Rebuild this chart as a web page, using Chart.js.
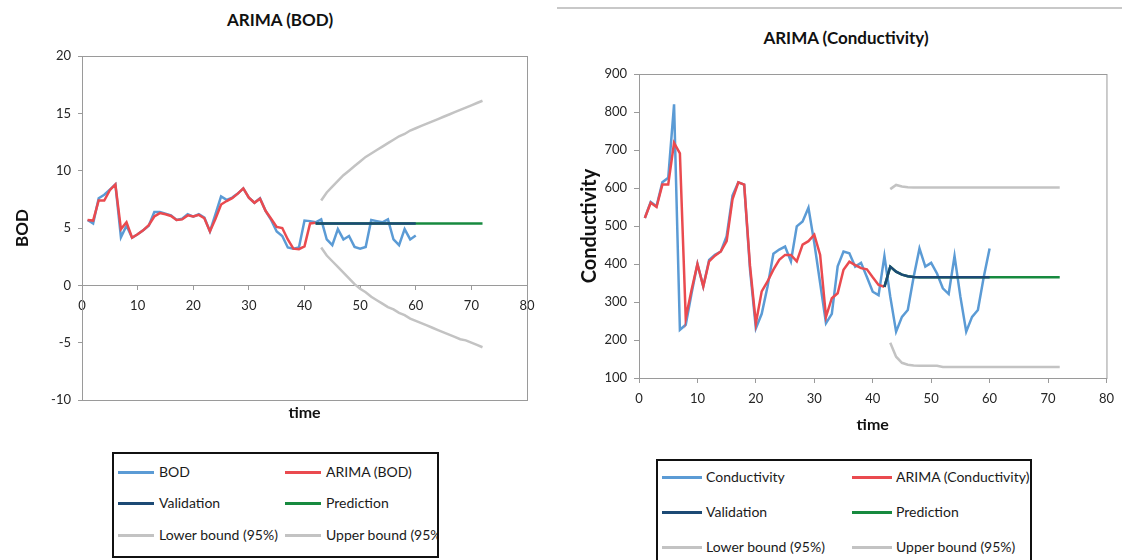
<!DOCTYPE html>
<html lang="en">
<head>
<meta charset="UTF-8">
<title>ARIMA (BOD) / ARIMA (Conductivity)</title>
<script src="https://cdn.jsdelivr.net/npm/chart.js@4.4.0/dist/chart.umd.min.js"></script>
<style>
    body { margin: 0; width: 1122px; height: 560px; background: #fff; overflow: hidden; position: relative; font-family: Lato, "Open Sans", sans-serif; }
    canvas { position: absolute; }
    .title { position: absolute; transform: translate(-50%, -50%); font-weight: bold; font-size: 17px; color: #111; white-space: nowrap; }
    .rule { position: absolute; left: 557px; top: 7px; width: 565px; border-top: 2px solid #c8c8c8; }
    .legend { position: absolute; border: 2px solid #111; overflow: hidden; box-sizing: border-box; }
    .item { position: absolute; height: 18px; line-height: 18px; font-size: 14px; color: #1a1a1a; white-space: nowrap; display: flex; align-items: center; }
    .sw { display: inline-block; height: 3px; }
</style>
</head>
<body>

<div class="rule"></div>
<div class="title" style="left:280px;top:19px">ARIMA (BOD)</div>
<div class="title" style="left:846px;top:37px">ARIMA (Conductivity)</div>

<canvas id="bodChart" width="545" height="445" style="left:0;top:0"></canvas>
<canvas id="condChart" width="562" height="445" style="left:560px;top:0"></canvas>

<div class="legend" id="bodLegend" style="left:112px;top:452px;width:327px;height:106px"></div>
<div class="legend" id="condLegend" style="left:656px;top:459px;width:376px;height:112px"></div>

<script>
    // ---- BOD (time starts at 1) ----
    var bodObserved = [5.7, 5.4, 7.6, 7.9, 8.35, 8.8, 4.2, 5.2, 4.15, 4.45,
        4.8, 5.2, 6.4, 6.4, 6.25, 6.1, 5.7, 5.8, 6.2, 6.0,
        6.2, 5.9, 4.7, 6.2, 7.75, 7.45, 7.65, 8.0, 8.45, 7.65,
        7.2, 7.6, 6.5, 5.7, 4.7, 4.3, 3.3, 3.2, 3.3, 5.65,
        5.6, 5.5, 5.75, 4.0, 3.5, 4.9, 4.0, 4.3, 3.35, 3.2,
        3.35, 5.7, 5.6, 5.5, 5.75, 4.0, 3.5, 4.9, 4.0, 4.35];
    var bodArima = [5.7, 5.65, 7.4, 7.4, 8.3, 8.8, 4.9, 5.5, 4.15, 4.45,
        4.8, 5.25, 6.0, 6.3, 6.2, 6.05, 5.7, 5.75, 6.1, 6.0,
        6.15, 5.85, 4.7, 5.8, 7.05, 7.35, 7.6, 8.0, 8.45, 7.65,
        7.2, 7.55, 6.5, 5.8, 5.1, 5.0, 4.0, 3.2, 3.15, 3.4,
        5.4, 5.45];
    // validation from t=42 to 60, prediction from t=42 to 72
    var bodValidation = [5.4, 5.4, 5.4, 5.4, 5.4, 5.4, 5.4, 5.4, 5.4, 5.4,
        5.4, 5.4, 5.4, 5.4, 5.4, 5.4, 5.4, 5.4, 5.4];
    var bodPrediction = [5.4, 5.4, 5.4, 5.4, 5.4, 5.4, 5.4, 5.4, 5.4, 5.4,
        5.4, 5.4, 5.4, 5.4, 5.4, 5.4, 5.4, 5.4, 5.4, 5.4,
        5.4, 5.4, 5.4, 5.4, 5.4, 5.4, 5.4, 5.4, 5.4, 5.4, 5.4];
    // bounds from t=43 to 72
    var bodLower = [3.3, 2.6, 2.1, 1.6, 1.1, 0.6, 0.1, -0.3, -0.6, -1.0,
        -1.3, -1.6, -1.9, -2.1, -2.4, -2.6, -2.9, -3.1, -3.3, -3.5,
        -3.7, -3.9, -4.1, -4.3, -4.5, -4.7, -4.8, -5.0, -5.2, -5.4];
    var bodUpper = [7.4, 8.1, 8.6, 9.1, 9.6, 10.0, 10.4, 10.8, 11.2, 11.5,
        11.8, 12.1, 12.4, 12.7, 13.0, 13.2, 13.5, 13.7, 13.9, 14.1,
        14.3, 14.5, 14.7, 14.9, 15.1, 15.3, 15.5, 15.7, 15.9, 16.1];

    // ---- Conductivity ----
    var condObserved = [521, 563, 552, 615, 627, 820, 227, 240, 323, 400,
        341, 411, 424, 433, 473, 580, 615, 609, 385, 231,
        269, 341, 427, 438, 446, 407, 499, 512, 548, 455,
        350, 244, 269, 394, 433, 428, 393, 403, 366, 327,
        318, 421, 314, 222, 261, 279, 366, 441, 393, 403,
        375, 336, 321, 421, 314, 222, 261, 279, 366, 441];
    var condArima = [521, 561, 550, 609, 609, 719, 691, 257, 332, 400,
        341, 407, 422, 433, 460, 570, 615, 609, 395, 244,
        328, 354, 385, 411, 424, 424, 407, 451, 460, 477,
        424, 261, 310, 323, 385, 406, 397, 389, 386, 365,
        345, 340];
    var condValidation = [340, 393, 380, 372, 368, 366, 365, 365, 365, 365,
        365, 365, 365, 365, 365, 365, 365, 365, 365];
    var condPrediction = [340, 393, 380, 372, 368, 366, 365, 365, 365, 365,
        365, 365, 365, 365, 365, 365, 365, 365, 365, 365,
        365, 365, 365, 365, 365, 365, 365, 365, 365, 365, 365];
    var condLower = [193, 156, 140, 135, 133, 132, 132, 132, 132, 129,
        129, 129, 129, 129, 129, 129, 129, 129, 129, 129,
        129, 129, 129, 129, 129, 129, 129, 129, 129, 129];
    var condUpper = [597, 608, 604, 602, 601, 601, 601, 601, 601, 601,
        601, 601, 601, 601, 601, 601, 601, 601, 601, 601,
        601, 601, 601, 601, 601, 601, 601, 601, 601, 601];

    var xTicks = {min: 0, max: 80, step: 10};

    var BLUE = '#5b9bd5', RED = '#ea4a4f', NAVY = '#1c4a75', GREEN = '#178a3f', GRAY = '#c3c3c3';
    var AXIS = '#9a9a9a', TEXT = '#262626';

    function pts(start, values) {
        return values.map(function (v, i) { return {x: start + i, y: v}; });
    }

    function line(label, data, color, order) {
        return {label: label, data: data, borderColor: color, backgroundColor: color,
            borderWidth: 2.5, pointRadius: 0, tension: 0, fill: false, order: order};
    }

    // gray frame round the plot area, like the Excel plot border
    var plotBorder = {
        id: 'plotBorder',
        beforeDatasetsDraw: function (chart) {
            var a = chart.chartArea, ctx = chart.ctx;
            ctx.save();
            ctx.strokeStyle = AXIS;
            ctx.lineWidth = 1;
            ctx.strokeRect(a.left + 0.5, a.top + 0.5, a.right - a.left, a.bottom - a.top);
            ctx.restore();
        }
    };

    var tickFont = {family: 'Lato', size: 13};

    Chart.defaults.font.family = 'Lato';
    Chart.defaults.animation = false;

    var bodChart = new Chart(document.getElementById('bodChart'), {
        type: 'line',
        data: {
            datasets: [
                line('BOD', pts(1, bodObserved), BLUE, 4),
                line('ARIMA (BOD)', pts(1, bodArima), RED, 3),
                line('Validation', pts(42, bodValidation), NAVY, 1),
                line('Prediction', pts(42, bodPrediction), GREEN, 2),
                line('Lower bound (95%)', pts(43, bodLower), GRAY, 5),
                line('Upper bound (95%)', pts(43, bodUpper), GRAY, 5)
            ]
        },
        options: {
            responsive: false,
            devicePixelRatio: 1,
            layout: {padding: {top: 56, right: 18, bottom: 45, left: 0}},
            plugins: {legend: {display: false}, tooltip: {enabled: false}},
            scales: {
                x: {
                    type: 'linear', min: xTicks.min, max: xTicks.max,
                    position: {y: 0},
                    ticks: {stepSize: xTicks.step, padding: 9, color: TEXT, font: tickFont},
                    grid: {drawOnChartArea: false, drawTicks: true, tickLength: 4, color: AXIS},
                    border: {color: AXIS},
                    title: {display: true, text: 'time', color: '#111', font: {size: 16, weight: 'bold'}, padding: {top: 0, bottom: 3}},
                    afterFit: function (s) { s.height = 140; }
                },
                y: {
                    min: -10, max: 20,
                    ticks: {stepSize: 5, padding: 7, color: TEXT, font: tickFont},
                    grid: {drawOnChartArea: false, drawTicks: true, tickLength: 4, color: AXIS},
                    border: {color: AXIS},
                    title: {display: true, text: 'BOD', color: '#111', font: {size: 17, weight: 'bold'}, padding: {top: 12, bottom: 0}},
                    afterFit: function (s) { s.width = 82; }
                }
            }
        },
        plugins: [plotBorder]
    });

    var condChart = new Chart(document.getElementById('condChart'), {
        type: 'line',
        data: {
            datasets: [
                line('Conductivity', pts(1, condObserved), BLUE, 4),
                line('ARIMA (Conductivity)', pts(1, condArima), RED, 3),
                line('Validation', pts(42, condValidation), NAVY, 1),
                line('Prediction', pts(42, condPrediction), GREEN, 2),
                line('Lower bound (95%)', pts(43, condLower), GRAY, 5),
                line('Upper bound (95%)', pts(43, condUpper), GRAY, 5)
            ]
        },
        options: {
            responsive: false,
            devicePixelRatio: 1,
            layout: {padding: {top: 74, right: 13, bottom: 0, left: 0}},
            plugins: {legend: {display: false}, tooltip: {enabled: false}},
            scales: {
                x: {
                    type: 'linear', min: xTicks.min, max: xTicks.max,
                    ticks: {stepSize: xTicks.step, padding: 8, color: TEXT, font: tickFont},
                    grid: {drawOnChartArea: false, drawTicks: true, tickLength: 5, color: AXIS},
                    border: {color: AXIS},
                    title: {display: true, text: 'time', color: '#111', font: {size: 16, weight: 'bold'}, padding: {top: 0, bottom: 11}},
                    afterFit: function (s) { s.height = 67; }
                },
                y: {
                    min: 100, max: 900,
                    ticks: {stepSize: 100, padding: 7, color: TEXT, font: tickFont},
                    grid: {drawOnChartArea: false, drawTicks: true, tickLength: 5, color: AXIS},
                    border: {color: AXIS},
                    title: {display: true, text: 'Conductivity', color: '#111', font: {size: 20, weight: 'bold'}, padding: {top: 18, bottom: 0}},
                    afterFit: function (s) { s.width = 79; }
                }
            }
        },
        plugins: [plotBorder]
    });

    // Excel style legend: two columns, three rows, in a framed box
    function buildLegend(boxId, chart, cfg) {
        var box = document.getElementById(boxId);
        chart.data.datasets.forEach(function (ds, i) {
            var item = document.createElement('div');
            item.className = 'item';
            item.style.left = cfg.cols[i % 2] + 'px';
            item.style.top = cfg.rows[Math.floor(i / 2)] + 'px';
            var sw = document.createElement('span');
            sw.className = 'sw';
            sw.style.width = cfg.sw + 'px';
            sw.style.marginRight = cfg.gap + 'px';
            sw.style.background = ds.borderColor;
            var txt = document.createElement('span');
            txt.textContent = ds.label;
            item.appendChild(sw);
            item.appendChild(txt);
            box.appendChild(item);
        });
    }

    buildLegend('bodLegend', bodChart, {cols: [4, 171], rows: [9, 40, 72], sw: 36, gap: 5});
    buildLegend('condLegend', condChart, {cols: [4, 194], rows: [7, 42, 77], sw: 40, gap: 4});
</script>
</body>
</html>
